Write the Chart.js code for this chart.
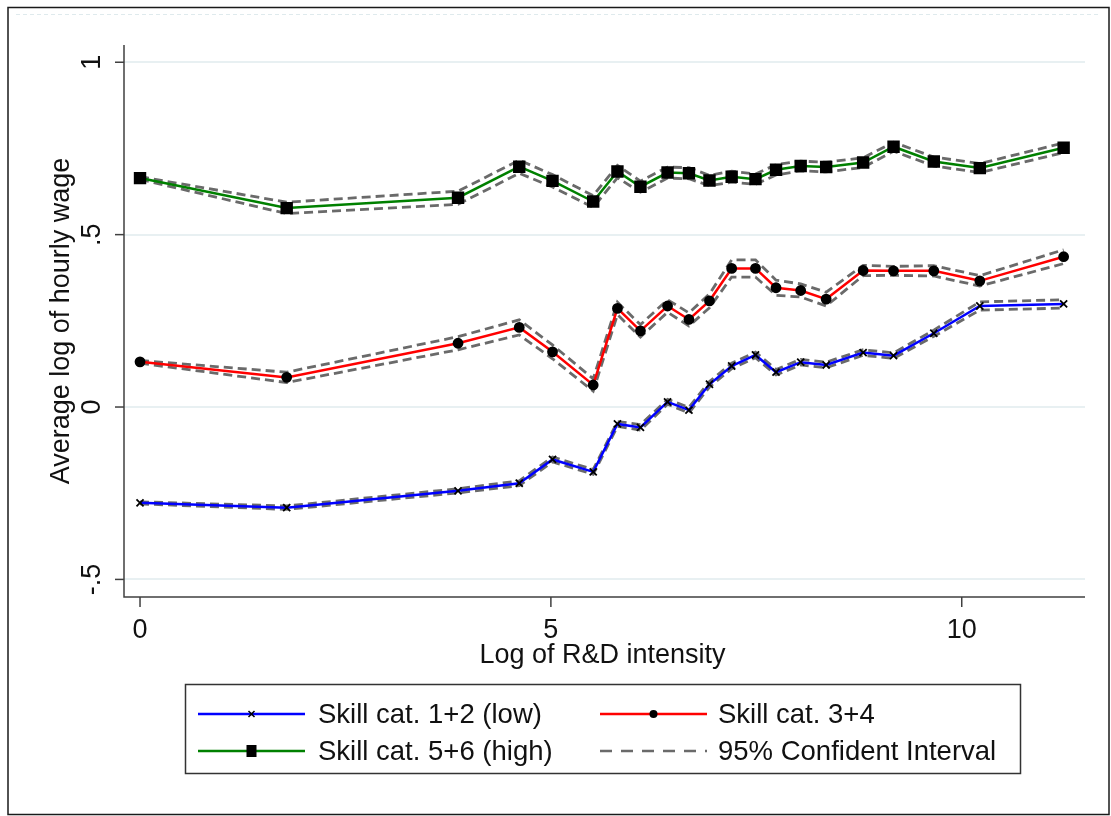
<!DOCTYPE html>
<html><head><meta charset="utf-8">
<script src="https://cdn.jsdelivr.net/npm/chart.js@4.4.0/dist/chart.umd.min.js"></script>
<style>html,body{margin:0;padding:0;background:#fff;overflow:hidden}#wrap{width:1111px;height:816px;position:relative}canvas{display:block}</style>
</head><body><div id="wrap"><canvas id="c" width="1111" height="816"></canvas></div>
<script>
const xValues = [0, 1.785, 3.87, 4.615, 5.02, 5.515, 5.81, 6.09, 6.42, 6.68, 6.93, 7.20, 7.49, 7.74, 8.04, 8.35, 8.80, 9.17, 9.66, 10.22, 11.24];

const lowSkill = [-0.278, -0.292, -0.243, -0.221, -0.152, -0.188, -0.049, -0.059, 0.015, -0.009, 0.066, 0.119, 0.151, 0.101, 0.130, 0.122, 0.158, 0.149, 0.214, 0.293, 0.299];
const lowUpper = [-0.275, -0.287, -0.237, -0.214, -0.145, -0.181, -0.042, -0.051, 0.022, -0.001, 0.074, 0.127, 0.159, 0.109, 0.138, 0.130, 0.166, 0.157, 0.223, 0.305, 0.311];
const lowLower = [-0.281, -0.297, -0.249, -0.228, -0.159, -0.195, -0.056, -0.067, 0.008, -0.017, 0.058, 0.111, 0.143, 0.093, 0.122, 0.114, 0.150, 0.141, 0.205, 0.281, 0.287];

const midSkill = [0.131, 0.086, 0.185, 0.231, 0.160, 0.064, 0.286, 0.221, 0.293, 0.254, 0.308, 0.402, 0.402, 0.346, 0.338, 0.313, 0.396, 0.395, 0.395, 0.366, 0.436];
const midUpper = [0.135, 0.101, 0.204, 0.253, 0.180, 0.082, 0.304, 0.239, 0.311, 0.273, 0.328, 0.427, 0.427, 0.368, 0.357, 0.333, 0.411, 0.408, 0.410, 0.381, 0.456];
const midLower = [0.127, 0.071, 0.166, 0.209, 0.140, 0.046, 0.268, 0.203, 0.275, 0.235, 0.288, 0.377, 0.377, 0.324, 0.319, 0.293, 0.381, 0.382, 0.380, 0.351, 0.416];

const highSkill = [0.664, 0.577, 0.607, 0.697, 0.656, 0.596, 0.683, 0.639, 0.680, 0.678, 0.657, 0.668, 0.661, 0.688, 0.699, 0.696, 0.709, 0.755, 0.712, 0.693, 0.752];
const highUpper = [0.668, 0.594, 0.626, 0.716, 0.674, 0.613, 0.701, 0.655, 0.696, 0.694, 0.672, 0.684, 0.676, 0.703, 0.713, 0.710, 0.723, 0.768, 0.725, 0.706, 0.766];
const highLower = [0.660, 0.561, 0.588, 0.678, 0.638, 0.579, 0.665, 0.623, 0.664, 0.662, 0.642, 0.652, 0.646, 0.673, 0.685, 0.682, 0.695, 0.742, 0.699, 0.680, 0.738];

const xTicks = [0, 5, 10];
const xTickLabels = ['0', '5', '10'];
const yTicks = [-0.5, 0, 0.5, 1];
const yTickLabels = ['-.5', '0', '.5', '1'];
const xTitle = 'Log of R&D intensity';
const yTitle = 'Average log of hourly wage';
const legendLabels = ['Skill cat. 1+2 (low)', 'Skill cat. 3+4', 'Skill cat. 5+6 (high)', '95% Confident Interval'];

const FONT = '"Liberation Sans", Arial, sans-serif';
const toPts = arr => arr.map((v, i) => ({x: xValues[i], y: v}));

function mainSet(label, vals, color, style, radius) {
  return {label, data: toPts(vals), borderColor: color, borderWidth: 2.5, pointStyle: style,
    pointRadius: radius, pointBackgroundColor: '#000', pointBorderColor: '#000', pointBorderWidth: 1.8,
    tension: 0, order: 1, fill: false};
}
function ciSet(vals) {
  return {label: 'ci', data: toPts(vals), borderColor: '#6a6a6a', borderWidth: 2.8, borderDash: [9, 5],
    pointRadius: 0, tension: 0, order: 5, fill: false};
}

const framePlugin = {
  id: 'frame',
  afterDraw(chart) {
    const ctx = chart.ctx;
    const xs = chart.scales.x, ys = chart.scales.y;
    const ca = chart.chartArea;
    ctx.save();
    ctx.strokeStyle = '#1a1a1a'; ctx.lineWidth = 1.5;
    ctx.strokeRect(8, 7.5, 1101, 807);
    ctx.strokeStyle = '#dfeaed'; ctx.lineWidth = 1; ctx.setLineDash([4, 3]);
    ctx.beginPath(); ctx.moveTo(16, 14.5); ctx.lineTo(1100, 14.5); ctx.stroke();
    ctx.setLineDash([]);
    ctx.strokeStyle = '#404040'; ctx.lineWidth = 1.5;
    ctx.beginPath(); ctx.moveTo(ca.left, ca.top); ctx.lineTo(ca.left, ca.bottom); ctx.lineTo(ca.right, ca.bottom); ctx.stroke();
    ctx.fillStyle = '#111';
    ctx.font = '27px ' + FONT;
    yTicks.forEach((t, i) => {
      const py = ys.getPixelForValue(t);
      ctx.beginPath(); ctx.moveTo(ca.left - 9, py); ctx.lineTo(ca.left, py); ctx.stroke();
      ctx.save(); ctx.translate(ca.left - 31, py); ctx.rotate(-Math.PI / 2);
      ctx.textAlign = 'center'; ctx.textBaseline = 'middle';
      ctx.fillText(yTickLabels[i], 0, 0); ctx.restore();
    });
    xTicks.forEach((t, i) => {
      const px = xs.getPixelForValue(t);
      ctx.beginPath(); ctx.moveTo(px, ca.bottom); ctx.lineTo(px, ca.bottom + 10); ctx.stroke();
      ctx.textAlign = 'center'; ctx.textBaseline = 'middle';
      ctx.fillText(xTickLabels[i], px, ca.bottom + 34);
    });
    ctx.textAlign = 'center'; ctx.textBaseline = 'middle';
    ctx.fillText(xTitle, (ca.left + ca.right) / 2 - 2, 656);
    ctx.save(); ctx.translate(62, (ca.top + ca.bottom) / 2); ctx.rotate(-Math.PI / 2);
    ctx.fillText(yTitle, 0, 0); ctx.restore();
    ctx.strokeStyle = '#333'; ctx.lineWidth = 1.5;
    ctx.strokeRect(185.5, 684.5, 835, 89);
    const rows = [714, 751];
    const cols = [[198, 305, 318], [600, 707, 718]];
    const items = [
      {c: 0, r: 0, color: '#0000ff', marker: 'x'},
      {c: 1, r: 0, color: '#ff0000', marker: 'circle'},
      {c: 0, r: 1, color: '#008000', marker: 'square'},
      {c: 1, r: 1, color: '#6a6a6a', marker: 'dash'}
    ];
    items.forEach((it, i) => {
      const y = rows[it.r], [x0, x1, tx] = cols[it.c];
      ctx.strokeStyle = it.color; ctx.lineWidth = 2.5;
      if (it.marker === 'dash') ctx.setLineDash([12, 9]);
      ctx.beginPath(); ctx.moveTo(x0, y); ctx.lineTo(x1, y); ctx.stroke();
      ctx.setLineDash([]);
      const mx = (x0 + x1) / 2;
      ctx.fillStyle = '#000'; ctx.strokeStyle = '#000'; ctx.lineWidth = 1.5;
      if (it.marker === 'x') {
        ctx.beginPath(); ctx.moveTo(mx - 3, y - 3); ctx.lineTo(mx + 3, y + 3); ctx.moveTo(mx + 3, y - 3); ctx.lineTo(mx - 3, y + 3); ctx.stroke();
      } else if (it.marker === 'circle') {
        ctx.beginPath(); ctx.arc(mx, y, 4, 0, Math.PI * 2); ctx.fill();
      } else if (it.marker === 'square') {
        ctx.fillRect(mx - 5, y - 6, 10, 12);
      }
      ctx.fillStyle = '#111'; ctx.font = '27.5px ' + FONT;
      ctx.textAlign = 'left'; ctx.textBaseline = 'middle';
      ctx.fillText(legendLabels[i], tx, y + 1);
    });
    ctx.restore();
  }
};

new Chart(document.getElementById('c'), {
  type: 'line',
  data: {
    datasets: [
      mainSet(legendLabels[0], lowSkill, '#0000ff', 'crossRot', 5),
      mainSet(legendLabels[1], midSkill, '#ff0000', 'circle', 4.5),
      mainSet(legendLabels[2], highSkill, '#008000', 'rect', 7.5),
      ciSet(lowUpper), ciSet(lowLower),
      ciSet(midUpper), ciSet(midLower),
      ciSet(highUpper), ciSet(highLower)
    ]
  },
  options: {
    responsive: false, animation: false, devicePixelRatio: 1,
    layout: {padding: {left: 124, right: 26, top: 45, bottom: 219}},
    plugins: {legend: {display: false}, tooltip: {enabled: false}},
    elements: {line: {borderCapStyle: 'butt'}},
    scales: {
      x: {type: 'linear', min: -0.195, max: 11.5,
        afterBuildTicks: s => { s.ticks = xTicks.map(v => ({value: v})); },
        afterFit: s => { s.height = 0; },
        ticks: {display: false}, grid: {display: false, drawTicks: false}, border: {display: false}},
      y: {type: 'linear', min: -0.551, max: 1.05,
        afterBuildTicks: s => { s.ticks = yTicks.map(v => ({value: v})); },
        afterFit: s => { s.width = 0; },
        ticks: {display: false}, grid: {color: '#e8f0f2', lineWidth: 2, drawTicks: false}, border: {display: false}}
    }
  },
  plugins: [framePlugin]
});
</script>
</body></html>
